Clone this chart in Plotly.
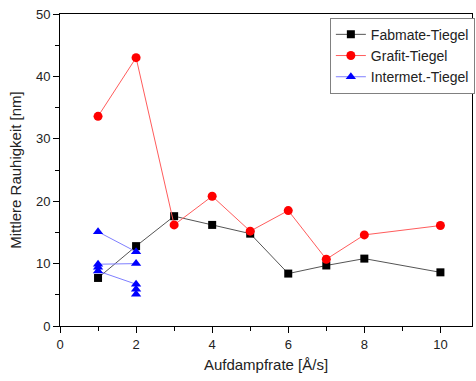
import plotly.graph_objects as go

rate = [1, 2, 3, 4, 5, 6, 7, 8, 10]
fabmate = [7.7, 12.8, 17.6, 16.2, 14.8, 8.4, 9.7, 10.8, 8.6]
grafit = [33.6, 43.0, 16.2, 20.8, 15.2, 18.5, 10.7, 14.6, 16.1]

inter_x = [1, 2, None, 1, 2, None, 1, 2]
inter_y = [15.1, 11.9, None, 9.9, 10.0, None, 8.8, 6.7]
inter_extra_x = [1, 2, 2]
inter_extra_y = [9.4, 5.9, 5.1]

fig = go.Figure()
fig.add_trace(go.Scatter(
    x=rate, y=fabmate, mode="lines+markers", name="Fabmate-Tiegel",
    line=dict(color="#555555", width=1),
    marker=dict(symbol="square", size=8, color="black")))
fig.add_trace(go.Scatter(
    x=rate, y=grafit, mode="lines+markers", name="Grafit-Tiegel",
    line=dict(color="#ff5c5c", width=1),
    marker=dict(symbol="circle", size=9, color="#ff0000")))
fig.add_trace(go.Scatter(
    x=inter_x, y=inter_y, mode="lines+markers", name="Intermet.-Tiegel",
    line=dict(color="#7f7fff", width=1),
    marker=dict(symbol="triangle-up", size=9, color="#0000ff"),
    connectgaps=False))
fig.add_trace(go.Scatter(
    x=inter_extra_x, y=inter_extra_y, mode="markers", showlegend=False,
    marker=dict(symbol="triangle-up", size=9, color="#0000ff")))

axis_common = dict(
    showline=True, linecolor="black", linewidth=1, mirror=True,
    showgrid=False, zeroline=False,
    ticks="outside", ticklen=6, tickwidth=1, tickcolor="black",
    tickfont=dict(size=13, color="#222222"),
)

fig.update_xaxes(
    range=[0, 10.83], tick0=0, dtick=2,
    minor=dict(ticks="outside", ticklen=4, dtick=1, tickcolor="black", showgrid=False),
    title=dict(text="Aufdampfrate [Å/s]", font=dict(size=15, color="#222222"), standoff=8),
    **axis_common)
fig.update_yaxes(
    range=[0, 50], tick0=0, dtick=10,
    minor=dict(ticks="outside", ticklen=4, dtick=5, tickcolor="black", showgrid=False),
    title=dict(text="Mittlere Rauhigkeit [nm]", font=dict(size=15, color="#222222"), standoff=10),
    **axis_common)

fig.update_layout(
    width=476, height=381,
    margin=dict(l=60, r=1, t=14, b=55),
    paper_bgcolor="white", plot_bgcolor="white",
    font=dict(family="Liberation Sans, Arial, sans-serif", color="#222222"),
    legend=dict(
        x=0.655, y=0.988, xanchor="left", yanchor="top",
        bordercolor="#808080", borderwidth=1, bgcolor="white",
        font=dict(size=14, color="#222222"),
        itemwidth=30, tracegroupgap=0,
    ),
)

fig.write_html("out.html")
